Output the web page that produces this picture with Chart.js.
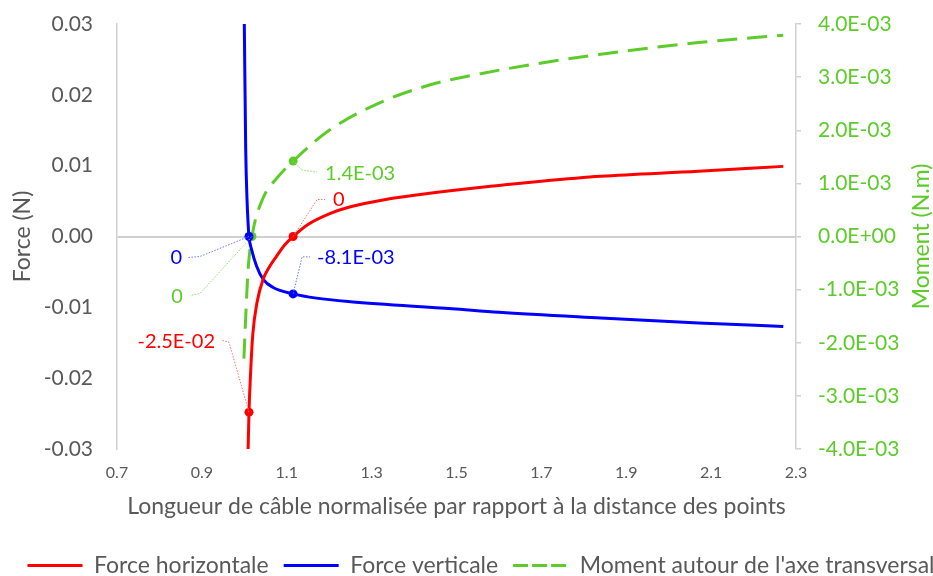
<!DOCTYPE html>
<html>
<head>
<meta charset="utf-8">
<script src="https://cdn.jsdelivr.net/npm/chart.js@4.4.0/dist/chart.umd.min.js"></script>
<style>
  html, body { margin: 0; padding: 0; overflow: hidden; background: #fff; }
  #wrap { width: 933px; height: 576px; overflow: hidden; }
</style>
</head>
<body>
<div id="wrap"><canvas id="chart" width="1000" height="600"></canvas></div>
<script>
// longueur de câble normalisée (x) and values
const xHorizontal = [1.009, 1.011, 1.015, 1.02, 1.03, 1.044, 1.06, 1.077, 1.095, 1.115, 1.15, 1.2, 1.25, 1.33, 1.41, 1.49, 1.6, 1.7, 1.84, 2.07, 2.27]
const forceHorizontal = [-0.030, -0.0248, -0.0190, -0.0138, -0.0093, -0.0061, -0.0042, -0.0027, -0.0012, 0, 0.0017, 0.0032, 0.0042, 0.0052, 0.0059, 0.0065, 0.0072, 0.0078, 0.0085, 0.0092, 0.0099]

const xVertical = [1.000, 1.0033, 1.0064, 1.009, 1.011, 1.017, 1.029, 1.045, 1.068, 1.115, 1.17, 1.25, 1.49, 1.6, 1.84, 2.07, 2.27]
const forceVertical = [0.030, 0.0123, 0.0052, 0.0018, 0, -0.0018, -0.0042, -0.0061, -0.0072, -0.0081, -0.0087, -0.0092, -0.0102, -0.0107, -0.0115, -0.0122, -0.0127]

const xMoment = [0.999, 1.002, 1.009, 1.018, 1.044, 1.077, 1.115, 1.2, 1.32, 1.44, 1.56, 1.68, 1.84, 2.07, 2.27]
const moment = [-0.0023, -0.00175, -0.00062, 0, 0.00072, 0.00110, 0.00142, 0.0020, 0.00252, 0.00286, 0.00307, 0.00324, 0.00343, 0.00365, 0.00379]

// labelled points (index into the series) and their texts
const markHorizontal = [1, 9]
const labelHorizontal = ['-2.5E-02', '0']
const markVertical = [4, 9]
const labelVertical = ['0', '-8.1E-03']
const markMoment = [3, 6]
const labelMoment = ['0', '1.4E-03']

const xTitle = 'Longueur de câble normalisée par rapport à la distance des points'
const seriesNames = ['Force horizontale', 'Force verticale', "Moment autour de l'axe transversal"]

const GRAY = '#595959'
const AXIS = '#d0d0d0'
const RED = '#ff0000'
const BLUE = '#0000ff'
const GREEN = '#5dcc2a'
const FONT = 'Lato'
const NARROW = "'Liberation Sans Narrow', 'Arial Narrow', Lato"

Chart.defaults.font.family = FONT

const pts = (xs, ys) => xs.map((x, i) => ({ x, y: ys[i] }))
const marker = marks => ctx => marks.includes(ctx.dataIndex) ? 4.5 : 0

const sci = v => {
  if (Math.abs(v) < 1e-12) return '0.0E+00'
  const [m, e] = v.toExponential(1).split('e')
  return m + 'E' + e[0] + e.slice(1).padStart(2, '0')
}

// leader line + text placement for each labelled point, per series
const leaders = [
  [{ elbow: [-20, -70], end: [-28, -72], text: [-34, -71], align: 'right' },
   { elbow: [24, -37], end: [32, -37], text: [40, -37], align: 'left' }],
  [{ elbow: [-49, 20], end: [-61, 21], text: [-67, 21], align: 'right' },
   { elbow: [9, -37], end: [17, -37], text: [24, -36], align: 'left' }],
  [{ elbow: [-52, 57], end: [-62, 59], text: [-69, 60], align: 'right' },
   { elbow: [9, 9], end: [24, 11], text: [32, 12], align: 'left' }],
]
const markSets = [[markHorizontal, labelHorizontal, RED, '#ff7070'],
  [markVertical, labelVertical, BLUE, '#7070ff'],
  [markMoment, labelMoment, GREEN, '#8fdd6a']]

const pointLabels = {
  id: 'pointLabels',
  afterDatasetsDraw(chart) {
    const ctx = chart.ctx
    markSets.forEach(([marks, texts, color, light], di) => {
      const meta = chart.getDatasetMeta(di)
      marks.forEach((idx, k) => {
        const p = meta.data[idx]
        const l = leaders[di][k]
        ctx.save()
        ctx.strokeStyle = light
        ctx.lineWidth = 1
        ctx.setLineDash([1.5, 1.5])
        ctx.beginPath()
        ctx.moveTo(p.x, p.y)
        ctx.lineTo(p.x + l.elbow[0], p.y + l.elbow[1])
        ctx.lineTo(p.x + l.end[0], p.y + l.end[1])
        ctx.stroke()
        ctx.setLineDash([])
        ctx.fillStyle = color
        ctx.font = '20px ' + FONT
        ctx.textAlign = l.align
        ctx.textBaseline = 'middle'
        ctx.fillText(texts[k], p.x + l.text[0], p.y + l.text[1])
        ctx.restore()
      })
    })
  }
}

// right axis title reads bottom-to-top like the left one
const momentTitle = {
  id: 'momentTitle',
  afterDraw(chart) {
    const s = chart.scales.y1
    const ctx = chart.ctx
    ctx.save()
    ctx.translate(s.left + 126, (s.top + s.bottom) / 2)
    ctx.rotate(-Math.PI / 2)
    ctx.fillStyle = GREEN
    ctx.font = '23px ' + FONT
    ctx.textAlign = 'center'
    ctx.textBaseline = 'middle'
    ctx.fillText('Moment (N.m)', 0, 0)
    ctx.restore()
  }
}

// fixed axis boxes so the plot area lands where the reference has it
const fitY = width => s => {
  s.width = width
  s.paddingTop = 0
  s.paddingBottom = 0
}

new Chart(document.getElementById('chart'), {
  type: 'line',
  data: {
    datasets: [
      { label: seriesNames[0], data: pts(xHorizontal, forceHorizontal), yAxisID: 'y',
        borderColor: RED, backgroundColor: RED, borderWidth: 3,
        pointRadius: marker(markHorizontal), pointBackgroundColor: RED, pointBorderWidth: 0,
        cubicInterpolationMode: 'monotone' },
      { label: seriesNames[1], data: pts(xVertical, forceVertical), yAxisID: 'y',
        borderColor: BLUE, backgroundColor: BLUE, borderWidth: 3,
        pointRadius: marker(markVertical), pointBackgroundColor: BLUE, pointBorderWidth: 0,
        cubicInterpolationMode: 'monotone' },
      { label: seriesNames[2], data: pts(xMoment, moment), yAxisID: 'y1',
        borderColor: GREEN, backgroundColor: GREEN, borderWidth: 3, borderDash: [20, 10],
        pointRadius: marker(markMoment), pointBackgroundColor: GREEN, pointBorderWidth: 0,
        cubicInterpolationMode: 'monotone' },
    ]
  },
  options: {
    responsive: false,
    animation: false,
    devicePixelRatio: 1,
    layout: { padding: { top: 24, left: 0, right: 38, bottom: 13 } },
    plugins: {
      tooltip: { enabled: false },
      legend: {
        position: 'bottom',
        labels: {
          boxWidth: 55, boxHeight: 0, padding: 15, color: GRAY, font: { size: 23 },
          generateLabels: chart => {
            const items = Chart.defaults.plugins.legend.labels.generateLabels(chart)
            items[2].lineDash = [11, 8]
            return items
          }
        }
      }
    },
    scales: {
      x: {
        type: 'linear', min: 0.7, max: 2.3,
        ticks: { stepSize: 0.2, callback: v => v.toFixed(1), color: GRAY, font: { size: 16, family: NARROW }, padding: 6, maxRotation: 0 },
        grid: { display: false },
        border: { display: false },
        title: { display: true, text: xTitle, color: GRAY, font: { size: 23 }, padding: { top: 0, bottom: 19 } },
        afterFit: s => { s.height = 90 }
      },
      y: {
        position: 'left', min: -0.03, max: 0.03,
        ticks: { stepSize: 0.01, callback: v => v.toFixed(2), color: GRAY, font: { size: 21 }, padding: 24 },
        grid: { drawTicks: false, lineWidth: 2, color: c => Math.abs(c.tick.value) < 1e-9 ? AXIS : 'rgba(0,0,0,0)' },
        border: { display: true, color: AXIS, width: 1.5 },
        title: { display: true, text: 'Force (N)', color: GRAY, font: { size: 23 }, padding: { top: 9, bottom: 0 } },
        afterFit: fitY(117)
      },
      y1: {
        position: 'right', min: -0.004, max: 0.004,
        ticks: { stepSize: 0.001, callback: sci, color: GREEN, font: { size: 21 }, padding: 17 },
        grid: { drawOnChartArea: false, drawTicks: true, tickLength: 5, color: AXIS, lineWidth: 1.5 },
        border: { display: true, color: AXIS, width: 1.5 },
        afterFit: fitY(1000 - 38 - 796)
      }
    }
  },
  plugins: [pointLabels, momentTitle]
})
</script>
</body>
</html>
